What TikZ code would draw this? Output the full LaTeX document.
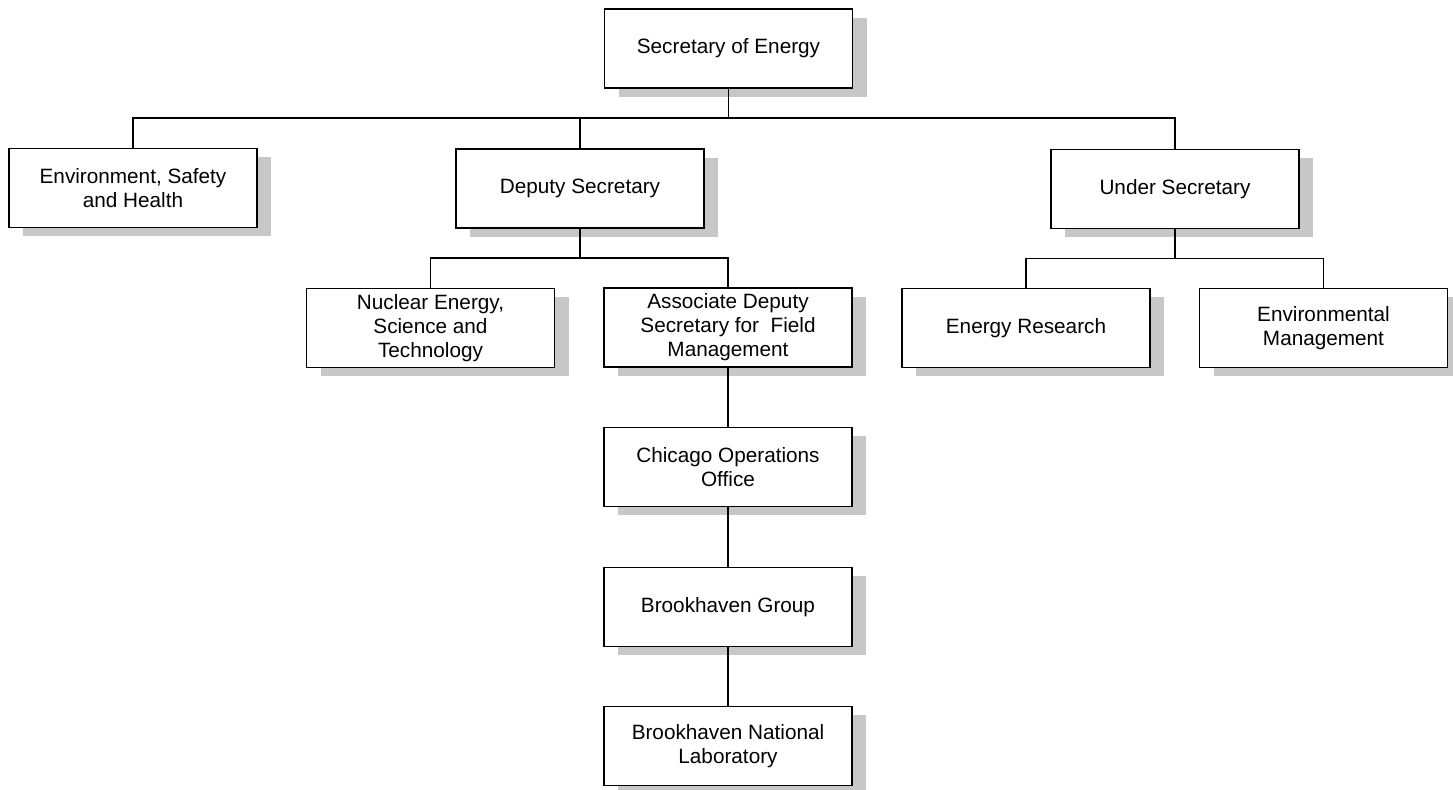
\documentclass[tikz,border=0pt]{standalone}
\usepackage{fontspec}
\setmainfont{Liberation Sans}
\usetikzlibrary{shadows}
\tikzset{
  unit/.style={draw, line width=0.9pt, fill=white, minimum width=4.96cm,
    minimum height=1.58cm, align=center, inner sep=2pt,
    font=\fontsize{11.8}{13.6}\selectfont,
    drop shadow={shadow xshift=0.28cm, shadow yshift=-0.17cm,
      fill=black!22, draw=none, opacity=1}},
  link/.style={line width=0.9pt}
}
\begin{document}
\begin{tikzpicture}
      \def\drop{0.58};
      \useasboundingbox (0,0) rectangle (29.06,-15.78);
      \node[unit] (sec) at (14.57,-0.97) {Secretary of Energy};
      \node[unit] (esh) at (2.66,-3.76) {Environment, Safety\\and Health};
      \node[unit] (dep) at (11.6,-3.77) {Deputy Secretary};
      \node[unit] (under) at (23.5,-3.78) {Under Secretary};
      \node[unit] (nuc) at (8.61,-6.56) {Nuclear Energy,\\Science and\\Technology};
      \node[unit] (assoc) at (14.56,-6.55) {Associate Deputy\\Secretary for \ Field\\Management};
      \node[unit] (res) at (20.52,-6.56) {Energy Research};
      \node[unit] (envm) at (26.47,-6.56) {Environmental\\Management};
      \node[unit] (chi) at (14.56,-9.34) {Chicago Operations\\Office};
      \node[unit] (bhg) at (14.56,-12.14) {Brookhaven Group};
      \node[unit] (bnl) at (14.56,-14.92) {Brookhaven National\\Laboratory};
      \draw[link] (sec.south) -- ++(0,-\drop) -| (esh.north);
      \draw[link] (sec.south) -- ++(0,-\drop) -| (dep.north);
      \draw[link] (sec.south) -- ++(0,-\drop) -| (under.north);
      \draw[link] (dep.south) -- ++(0,-\drop) -| (nuc.north);
      \draw[link] (dep.south) -- ++(0,-\drop) -| (assoc.north);
      \draw[link] (under.south) -- ++(0,-\drop) -| (res.north);
      \draw[link] (under.south) -- ++(0,-\drop) -| (envm.north);
      \draw[link] (assoc) -- (chi);
      \draw[link] (chi) -- (bhg);
      \draw[link] (bhg) -- (bnl);
    \end{tikzpicture}
\end{document}
